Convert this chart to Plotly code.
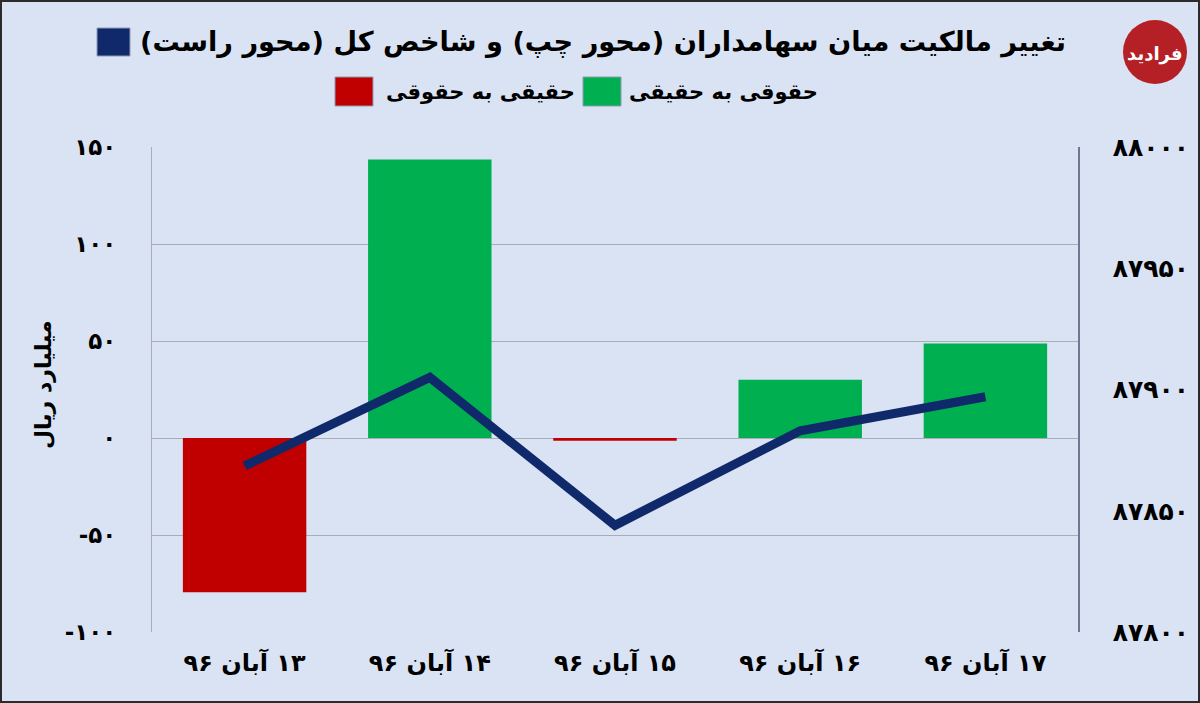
import plotly.graph_objects as go

# Chart data
dates = ["۱۳ آبان ۹۶", "۱۴ آبان ۹۶", "۱۵ آبان ۹۶", "۱۶ آبان ۹۶", "۱۷ آبان ۹۶"]
ownership_change = [-79.5, 143.5, -1.4, 30, 48.7]   # billion rials, left axis
index_values = [87868.5, 87905, 87844, 87883, 87897]  # total index, right axis

left_ticks = [-100, -50, 0, 50, 100, 150]
left_ticktext = ["-۱۰۰", "-۵۰", "۰", "۵۰", "۱۰۰", "۱۵۰"]
right_ticks = [87800, 87850, 87900, 87950, 88000]
right_ticktext = ["۸۷۸۰۰", "۸۷۸۵۰", "۸۷۹۰۰", "۸۷۹۵۰", "۸۸۰۰۰"]

RLM = "\u200f"
BG = "#DAE3F3"
GREEN = "#00B050"
RED = "#C00000"
NAVY = "#10296B"
FONT = "DejaVu Sans"

# figure geometry (pixels) so decorations can be placed in paper coords
W, H = 1200, 703
L, R, T, B = 152, 122, 147, 71
PW, PH = W - L - R, H - T - B


def px(x):
    return (x - L) / PW


def py(y):
    return (H - B - y) / PH


bar_colors = [GREEN if v >= 0 else RED for v in ownership_change]
x_labels = [RLM + d for d in dates]

fig = go.Figure()
fig.add_trace(go.Bar(
    x=x_labels, y=ownership_change,
    marker_color=bar_colors, marker_line_width=0, showlegend=False,
))
fig.add_trace(go.Scatter(
    x=x_labels, y=index_values, yaxis="y2",
    mode="lines", line=dict(color=NAVY, width=9), showlegend=False,
))

fig.update_layout(
    width=W, height=H,
    margin=dict(l=L, r=R, t=T, b=B),
    paper_bgcolor=BG, plot_bgcolor=BG,
    bargap=1 / 3,
    font=dict(family=FONT, color="black"),
    xaxis=dict(
        showgrid=False, ticks="", ticklabelstandoff=14,
        tickfont=dict(size=24, weight="bold"),
    ),
    yaxis=dict(
        range=[-100, 150], tickvals=left_ticks, ticktext=left_ticktext,
        showgrid=True, gridcolor="#A9ADB6", gridwidth=1.2, zeroline=False,
        showline=True, linecolor="#A9ADB6", linewidth=1.2,
        ticks="", ticklabelstandoff=30,
        tickfont=dict(size=23, weight="bold"),
    ),
    yaxis2=dict(
        range=[87800, 88000], tickvals=right_ticks, ticktext=right_ticktext,
        overlaying="y", side="right", showgrid=False, zeroline=False,
        showline=True, linecolor="#6E7890", linewidth=1.5,
        ticks="", ticklabelstandoff=28,
        tickfont=dict(size=25, weight="bold"),
    ),
)

# title and hand-made legend rows
fig.add_annotation(
    text=RLM + "تغییر مالکیت میان سهامداران (محور چپ) و شاخص کل (محور راست)" + RLM,
    x=px(1068), y=py(42), xref="paper", yref="paper",
    xanchor="right", yanchor="middle", showarrow=False,
    font=dict(size=27.2, weight="bold"),
)
fig.add_annotation(
    text=RLM + "حقوقی به حقیقی", x=px(820), y=py(92), xref="paper", yref="paper",
    xanchor="right", yanchor="middle", showarrow=False,
    font=dict(size=21, weight="bold"),
)
fig.add_annotation(
    text=RLM + "حقیقی به حقوقی", x=px(577), y=py(92), xref="paper", yref="paper",
    xanchor="right", yanchor="middle", showarrow=False,
    font=dict(size=21, weight="bold"),
)
legend_boxes = [(97, 130, 28, 56, NAVY), (583, 621, 77, 106, GREEN), (335, 373, 77, 106, RED)]
for x0, x1, y0, y1, c in legend_boxes:
    fig.add_shape(type="rect", xref="paper", yref="paper",
                  x0=px(x0), x1=px(x1), y0=py(y1), y1=py(y0),
                  fillcolor=c, line=dict(color="#8E9BB5", width=1))

# left axis title
fig.add_annotation(
    text=RLM + "میلیارد ریال", x=px(43), y=py(385), xref="paper", yref="paper",
    xanchor="center", yanchor="middle",
    textangle=-90, showarrow=False, font=dict(size=22, weight="bold"),
)

# logo badge
fig.add_shape(type="circle", xref="paper", yref="paper",
              x0=px(1123), x1=px(1187), y0=py(84), y1=py(20),
              fillcolor="#B52026", line=dict(width=0))
fig.add_annotation(
    text=RLM + "فرادید", x=px(1155), y=py(54), xref="paper", yref="paper",
    xanchor="center", yanchor="middle", showarrow=False,
    font=dict(size=18, color="white", weight="bold"),
)

# thin frame around the whole picture
fig.add_shape(type="rect", xref="paper", yref="paper",
              x0=px(1), x1=px(W - 1), y0=py(H - 1), y1=py(1),
              line=dict(color="#2B2B2B", width=2))

fig.write_html("out.html", config={"displayModeBar": False},
               post_script="document.body.style.margin='0';")
